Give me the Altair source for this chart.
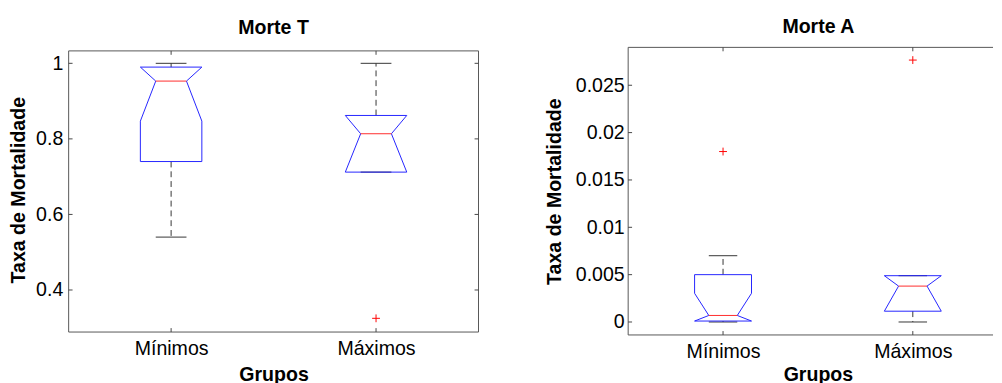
import altair as alt
import pandas as pd

FONT = "Liberation Sans"
FS = 20

groups = ["Mínimos", "Máximos"]
positions = [1, 2]

# ---- Morte T ----
t_q1 = [0.740, 0.712]
t_notch_lo = [0.847, 0.712]
t_median = [0.953, 0.8136]
t_notch_hi = [0.990, 0.862]
t_q3 = [0.990, 0.862]
t_whisk_lo = [0.540, 0.712]
t_whisk_hi = [1.000, 1.000]
t_out_pos = [2]
t_out_value = [0.325]
t_yticks = [0.4, 0.6, 0.8, 1.0]
t_ylim = [0.2887, 1.0329]      # axes limits (frame)
t_yview_top = 1.0422           # view extends a little above the frame

# ---- Morte A ----
a_q1 = [0.0001, 0.00114]
a_notch_lo = [0.0001, 0.00114]
a_median = [0.00069, 0.00379]
a_notch_hi = [0.00303, 0.00489]
a_q3 = [0.0050, 0.00489]
a_whisk_lo = [0.0, 0.0]
a_whisk_hi = [0.0070, 0.00489]
a_out_pos = [1, 2]
a_out_value = [0.0180, 0.02766]
a_yticks = [0, 0.005, 0.01, 0.015, 0.02, 0.025]
a_ylim = [-0.00137, 0.0290]
a_yview_top = 0.0290

W = 0.15  # box half width (x units)
FRAME = "#555555"
TICK = "#444444"


def label_expr():
    return " : ".join(
        [f"datum.value == {p} ? '{g}'" for p, g in zip(positions[:-1], groups[:-1])]
        + [f"'{groups[-1]}'"]
    )


def panel(title, q1, nlo, med, nhi, q3, wlo, whi, out_pos, out_val,
          yticks, ylim, yview_top, xlim, xview, width, height, right_border,
          title_dx, grupos_x, grupos_y, label_pad_y, title_pad_y):
    xscale = alt.Scale(domain=xview, nice=False, zero=False)
    yscale = alt.Scale(domain=[ylim[0], yview_top], nice=False, zero=False)

    xaxis = alt.Axis(values=positions, labelExpr=label_expr(), title="Grupos",
                     grid=False, ticks=False, domain=False,
                     labelFont=FONT, labelFontSize=FS, labelColor="black",
                     labelPadding=7, titleFont=FONT, titleFontSize=FS,
                     titleFontWeight="bold", titleColor="black",
                     titleX=grupos_x, titleY=grupos_y)
    yaxis = alt.Axis(values=yticks, format="~g", title="Taxa de Mortalidade",
                     grid=False, ticks=False, domain=False,
                     labelFont=FONT, labelFontSize=FS, labelColor="black",
                     labelPadding=label_pad_y, titleFont=FONT, titleFontSize=FS,
                     titleFontWeight="bold", titleColor="black",
                     titlePadding=title_pad_y)

    X = lambda f, **k: alt.X(f, type="quantitative", scale=xscale, axis=xaxis, **k)
    Y = lambda f, **k: alt.Y(f, type="quantitative", scale=yscale, axis=yaxis, **k)

    rows = []
    for i, p in enumerate(positions):
        seq = [(-W, q1[i]), (W, q1[i]), (W, nlo[i]), (W / 2, med[i]), (W, nhi[i]),
               (W, q3[i]), (-W, q3[i]), (-W, nhi[i]), (-W / 2, med[i]),
               (-W, nlo[i]), (-W, q1[i])]
        for k, (dx, yv) in enumerate(seq):
            rows.append({"g": groups[i], "k": k, "x": p + dx, "y": yv})
    outline = pd.DataFrame(rows)

    stats = pd.DataFrame({
        "g": groups, "p": positions,
        "xl": [p - W / 2 for p in positions], "xr": [p + W / 2 for p in positions],
        "q1": q1, "q3": q3, "med": med, "wlo": wlo, "whi": whi,
    })

    whisk_hi = alt.Chart(stats).mark_rule(color="#333333", strokeWidth=1,
                                          strokeDash=[6, 4]).encode(
        x=X("p"), y=Y("q3"), y2="whi")
    whisk_lo = alt.Chart(stats).mark_rule(color="#333333", strokeWidth=1,
                                          strokeDash=[6, 4]).encode(
        x=X("p"), y=Y("q1"), y2="wlo")
    cap_hi = alt.Chart(stats).mark_rule(color="#333333", strokeWidth=1).encode(
        x=X("xl"), x2="xr", y=Y("whi"))
    cap_lo = alt.Chart(stats).mark_rule(color="#333333", strokeWidth=1).encode(
        x=X("xl"), x2="xr", y=Y("wlo"))
    box = alt.Chart(outline).mark_line(color="#2222ff", strokeWidth=1).encode(
        x=X("x"), y=Y("y"), detail="g:N", order="k:Q")
    median = alt.Chart(stats).mark_rule(color="#ff2a2a", strokeWidth=1).encode(
        x=X("xl"), x2="xr", y=Y("med"))
    outl = alt.Chart(pd.DataFrame({"p": out_pos, "v": out_val})).mark_point(
        shape="M-1,0H1M0,-1V1", size=64, color="#ff0000", strokeWidth=1,
        filled=False, opacity=1).encode(x=X("p"), y=Y("v"))

    one = pd.DataFrame({"a": [0]})
    ydf = pd.DataFrame({"v": yticks})
    xdf = pd.DataFrame({"p": positions})

    # frame
    frame_top = alt.Chart(one).mark_rule(color=FRAME, strokeWidth=1).encode(
        x=alt.datum(xlim[0]), x2=alt.datum(xview[1]), y=alt.datum(ylim[1]))
    frame_bot = alt.Chart(one).mark_rule(color=FRAME, strokeWidth=1).encode(
        x=alt.datum(xlim[0]), x2=alt.datum(xview[1]), y=alt.datum(ylim[0]))
    frame_left = alt.Chart(one).mark_rule(color=FRAME, strokeWidth=1).encode(
        x=alt.datum(xlim[0]), y=alt.datum(ylim[0]), y2=alt.datum(ylim[1]))
    layers = [whisk_hi, whisk_lo, cap_hi, cap_lo, box, median, outl,
              frame_top, frame_bot, frame_left]
    if right_border:
        frame_right = alt.Chart(one).mark_rule(color=FRAME, strokeWidth=1).encode(
            x=alt.datum(xlim[1]), y=alt.datum(ylim[0]), y2=alt.datum(ylim[1]))
        layers.append(frame_right)

    # inward ticks
    layers.append(alt.Chart(ydf).mark_rule(color=TICK, strokeWidth=1, x2Offset=4).encode(
        x=alt.datum(xlim[0]), x2=alt.datum(xlim[0]), y=Y("v")))
    if right_border:
        layers.append(alt.Chart(ydf).mark_rule(color=TICK, strokeWidth=1, x2Offset=-4).encode(
            x=alt.datum(xlim[1]), x2=alt.datum(xlim[1]), y=Y("v")))
    layers.append(alt.Chart(xdf).mark_rule(color=TICK, strokeWidth=1, y2Offset=4).encode(
        x=X("p"), y=alt.datum(ylim[1]), y2=alt.datum(ylim[1])))
    layers.append(alt.Chart(xdf).mark_rule(color=TICK, strokeWidth=1, y2Offset=-4).encode(
        x=X("p"), y=alt.datum(ylim[0]), y2=alt.datum(ylim[0])))

    return alt.layer(*layers).properties(
        width=width, height=height,
        view=alt.ViewBackground(stroke="transparent"),
        title=alt.TitleParams(title, font=FONT, fontSize=FS, fontWeight="bold",
                              color="black", anchor="middle", offset=10,
                              dx=title_dx))


left = panel("Morte T", t_q1, t_notch_lo, t_median, t_notch_hi, t_q3, t_whisk_lo,
             t_whisk_hi, t_out_pos, t_out_value, t_yticks, t_ylim, t_yview_top,
             [0.5, 2.5], [0.5, 2.5], 419, 291, True, 0, 209.5, 34, 6, 7)
right = panel("Morte A", a_q1, a_notch_lo, a_median, a_notch_hi, a_q3, a_whisk_lo,
              a_whisk_hi, a_out_pos, a_out_value, a_yticks, a_ylim, a_yview_top,
              [0.5, 2.5], [0.5, 2.4227], 373, 294, False, 8, 194, 31, 4, 11)

chart = alt.hconcat(left, right, spacing=66).properties(
    padding={"left": 0, "top": 5, "right": 0, "bottom": 0}
).configure(background="white")

chart.save("out.html", embed_options={"renderer": "svg", "actions": False})
